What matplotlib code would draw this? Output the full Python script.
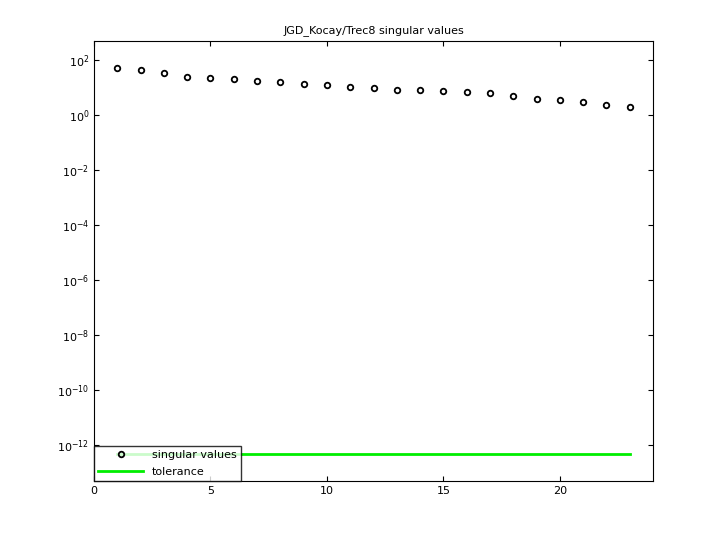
import matplotlib
matplotlib.use("Agg")
import matplotlib.pyplot as plt

idx = list(range(1, 24))
sv = [51, 43, 34, 24, 22, 20, 17, 16, 13.4, 12.3, 10.4, 9.6, 8.1, 8.1, 7.5, 6.9, 6.3, 4.9, 3.8, 3.5, 3.0, 2.3, 1.95]
tol = 5e-13

fig = plt.figure(figsize=(7.2, 5.4), dpi=100)
ax = fig.add_axes([0.1306, 0.109, 0.7764, 0.815])
ax.semilogy(idx, sv, 'o', mfc='none', mec='black', mew=1.3, ms=4, label='singular values')
ax.semilogy([idx[0], idx[-1]], [tol, tol], '-', color='#00ee00', lw=2, label='tolerance')
ax.set_xlim(0, 24)
ax.set_ylim(10**-13.3, 10**2.69)
ax.set_yticks([10.0**k for k in range(-12, 3, 2)])
ax.minorticks_off()
ax.set_xticks([0, 5, 10, 15, 20])
ax.tick_params(labelsize=8, direction='in', top=True, right=True)
ax.set_title('JGD_Kocay/Trec8 singular values', fontsize=8)
ax.legend(loc='lower left', fontsize=8, frameon=True, fancybox=False, edgecolor='black',
          borderaxespad=0, handlelength=4, labelspacing=0.6)
fig.savefig('out.png')
